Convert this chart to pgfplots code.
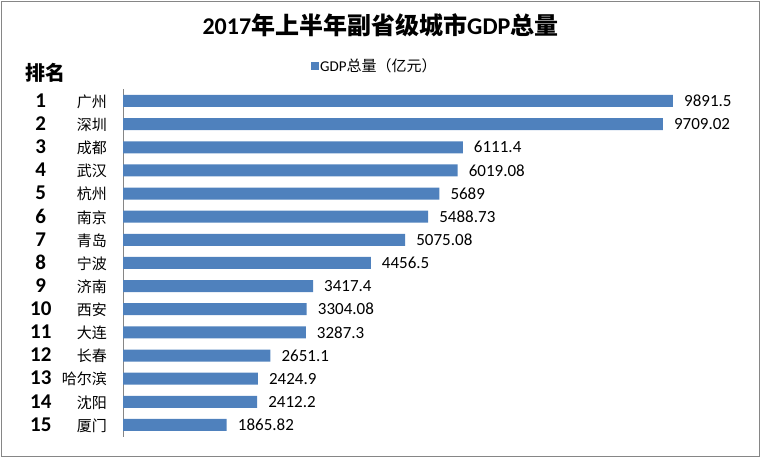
\documentclass[border=0pt]{standalone}
\usepackage{fontspec}
\setmainfont{Carlito}
\newfontfamily\cjk{Noto Sans CJK SC}
\usepackage{pgfplots}
\pgfplotsset{compat=1.18}
\definecolor{barblue}{HTML}{4F81BD}
\definecolor{framegray}{HTML}{868686}
\newcommand{\yl}[2]{\makebox[81bp][l]{\makebox[30bp][c]{\fontsize{21bp}{21bp}\selectfont\bfseries #1}\hfill{\fontsize{15bp}{15bp}\selectfont\cjk #2}}}
\begin{document}
\begin{tikzpicture}
\useasboundingbox (0,0) rectangle (761bp,-458bp);
\draw[framegray, line width=1bp] (1.5bp,-1.5bp) rectangle (759.5bp,-456.5bp);
\node[font=\fontsize{24bp}{24bp}\selectfont\bfseries] at (380.5bp,-25bp) {2017{\cjk 年上半年副省级城市}GDP{\cjk 总量}};
\node[font=\fontsize{20bp}{20bp}\selectfont\bfseries\cjk] at (45bp,-73bp) {排名};
\begin{axis}[
 at={(123bp,-89.4bp)}, anchor=north west,
 scale only axis, width=556bp, height=347.1bp,
 xmin=0, xmax=10000, ymin=0.5, ymax=15.5, y dir=reverse,
 axis x line=none, axis y line*=left,
 y axis line style={-, framegray, line width=1bp},
 ytick={1,...,15},
 yticklabels={{\yl{1}{广州}},{\yl{2}{深圳}},{\yl{3}{成都}},{\yl{4}{武汉}},{\yl{5}{杭州}},{\yl{6}{南京}},{\yl{7}{青岛}},{\yl{8}{宁波}},{\yl{9}{济南}},{\yl{10}{西安}},{\yl{11}{大连}},{\yl{12}{长春}},{\yl{13}{哈尔滨}},{\yl{14}{沈阳}},{\yl{15}{厦门}}},
 ytick style={draw=none}, major tick length=0pt,
 yticklabel style={anchor=east, inner sep=0pt, xshift=-16bp},
 xbar, bar width=12bp, clip=false,
 nodes near coords, point meta=explicit symbolic,
 nodes near coords style={anchor=west, inner sep=0pt, xshift=11bp, font=\fontsize{17bp}{17bp}\selectfont},
 legend style={draw=none, fill=none, at={(0.337,1.067)}, anchor=west, inner sep=0pt, font=\fontsize{15bp}{15bp}\selectfont, nodes={inner sep=1.5bp}},
 legend image code/.code={\fill[barblue] (0bp,-4bp) rectangle (8bp,4bp);},
]
\addplot[fill=barblue, draw=none] coordinates {
(9891.5,1) [9891.5]
(9709.02,2) [9709.02]
(6111.4,3) [6111.4]
(6019.08,4) [6019.08]
(5689,5) [5689]
(5488.73,6) [5488.73]
(5075.08,7) [5075.08]
(4456.5,8) [4456.5]
(3417.4,9) [3417.4]
(3304.08,10) [3304.08]
(3287.3,11) [3287.3]
(2651.1,12) [2651.1]
(2424.9,13) [2424.9]
(2412.2,14) [2412.2]
(1865.82,15) [1865.82]
};
\addlegendentry{GDP{\cjk 总量（亿元）}}
\end{axis}
\end{tikzpicture}
\end{document}
